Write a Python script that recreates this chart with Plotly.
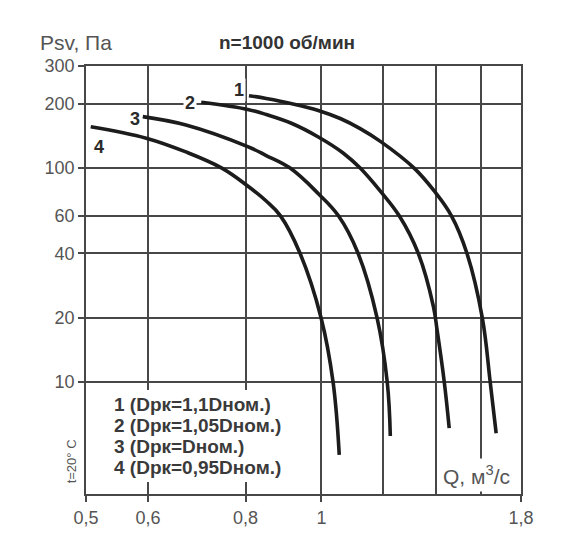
import math
import plotly.graph_objects as go

# ---- data ----
q1 = [0.808, 0.850, 0.917, 0.991, 1.057, 1.121, 1.191, 1.314, 1.394, 1.466, 1.535, 1.606, 1.644, 1.673]
p1 = [218, 211.5, 200, 186, 170.5, 153, 133, 100, 78.2, 60, 40, 20, 10, 5.77]

q2 = [0.702, 0.805, 0.850, 0.917, 0.991, 1.066, 1.121, 1.191, 1.257, 1.330, 1.391, 1.406, 1.436, 1.457]
p2 = [203, 188, 178, 161.6, 139.8, 117.7, 100, 77.6, 60, 40, 22.5, 17.5, 10.0, 6.09]

q3 = [0.591, 0.671, 0.805, 0.850, 0.912, 0.992, 1.051, 1.114, 1.178, 1.214, 1.225]
p3 = [174, 159, 126, 114.5, 100, 75.7, 60, 40, 20, 10, 5.6]

q4 = [0.507, 0.597, 0.671, 0.746, 0.805, 0.850, 0.886, 0.939, 0.999, 1.035, 1.054]
p4 = [156, 138, 119, 100, 82.5, 70.2, 60, 40, 20, 10, 4.57]

curve_names = ["1", "2", "3", "4"]
legend_lines = ["1 (Dpк=1,1Dном.)", "2 (Dpк=1,05Dном.)", "3 (Dpк=Dном.)", "4 (Dpк=0,95Dном.)"]

x_tickvals = [0.5, 0.6, 0.8, 1, 1.8]
x_ticktext = ["0,5", "0,6", "0,8", "1", "1,8"]
x_minor_grid = [1.2, 1.4, 1.6]
y_tickvals = [10, 20, 40, 60, 100, 200, 300]
y_ticktext = ["10", "20", "40", "60", "100", "200", "300"]

# ---- figure ----
LINE = "#1c1c1c"
GRID = "#474747"
TXT = "#555555"
BG = "#ffffff"
FONT = "Liberation Sans, Arial, sans-serif"

fig = go.Figure()
for q, p, name in zip([q1, q2, q3, q4], [p1, p2, p3, p4], curve_names):
    fig.add_trace(go.Scatter(x=q, y=p, mode="lines", name=name,
                             line=dict(color=LINE, width=3.6, shape="spline", smoothing=1.1),
                             showlegend=False, hoverinfo="skip"))

fig.update_layout(
    width=582, height=534,
    margin=dict(l=78, r=69, t=58, b=48),
    paper_bgcolor=BG, plot_bgcolor=BG,
    font=dict(family=FONT, color=TXT, size=18),
)
fig.update_xaxes(
    type="log", range=[math.log10(0.5), math.log10(1.8)],
    tickmode="array", tickvals=x_tickvals, ticktext=x_ticktext,
    showgrid=True, gridcolor=GRID, gridwidth=1.6,
    showline=True, linecolor=GRID, linewidth=1.8, mirror=True,
    ticks="outside", ticklen=6, tickcolor=GRID, tickwidth=1.6,
    tickfont=dict(family=FONT, size=18, color=TXT),
    minor=dict(tickmode="array", tickvals=x_minor_grid, showgrid=True,
               gridcolor=GRID, gridwidth=1.6, ticks=""),
    zeroline=False,
)
fig.update_yaxes(
    type="log", range=[math.log10(3), math.log10(300)],
    tickmode="array", tickvals=y_tickvals, ticktext=y_ticktext,
    showgrid=True, gridcolor=GRID, gridwidth=1.6,
    showline=True, linecolor=GRID, linewidth=1.8, mirror=True,
    ticks="outside", ticklen=6, tickcolor=GRID, tickwidth=1.6,
    tickfont=dict(family=FONT, size=18, color=TXT),
    zeroline=False,
)

# white box behind the key text (interrupts the grid)
fig.add_shape(type="rect", xref="paper", yref="paper",
              x0=0.02, x1=0.48, y0=0.028, y1=0.243,
              fillcolor=BG, line=dict(width=0), layer="above")

ann = []
# curve number labels
label_pos = [(0.785, 232), (0.679, 201), (0.578, 170), (0.519, 126)]
for name, (lx, ly) in zip(curve_names, label_pos):
    ann.append(dict(x=math.log10(lx), y=math.log10(ly), xref="x", yref="y",
                    text="<b>%s</b>" % name, showarrow=False,
                    font=dict(family=FONT, size=18, color="#2a2a2a"),
                    bgcolor=BG, borderpad=1))
# key text
for i, t in enumerate(legend_lines):
    ann.append(dict(x=0.0598, y=0.208 - i * 0.049, xref="paper", yref="paper",
                    xanchor="left", yanchor="middle", text="<b>%s</b>" % t,
                    showarrow=False, font=dict(family=FONT, size=19, color="#3a3a3a")))
# title
ann.append(dict(x=0.461, y=1.056, xref="paper", yref="paper", xanchor="center", yanchor="middle",
                text="<b>n=1000 об/мин</b>", showarrow=False,
                font=dict(family=FONT, size=19, color="#333333")))
# y axis title
ann.append(dict(x=-0.023, y=1.054, xref="paper", yref="paper", xanchor="center", yanchor="middle",
                text="Psv, Па", showarrow=False, font=dict(family=FONT, size=21, color=TXT)))
# x axis title (inside plot, white bg interrupts grid)
ann.append(dict(x=0.982, y=0.004, xref="paper", yref="paper", xanchor="right", yanchor="bottom",
                text="Q, м<sup>3</sup>/с", showarrow=False, height=28, valign="middle",
                bgcolor=BG, borderpad=2,
                font=dict(family=FONT, size=21, color=TXT)))
# temperature note
ann.append(dict(x=-0.033, y=0.0755, xref="paper", yref="paper", xanchor="center", yanchor="middle",
                text="t=20° C", textangle=-90, showarrow=False,
                font=dict(family=FONT, size=13, color=TXT)))
fig.update_layout(annotations=ann)

fig.write_html("out.html")
